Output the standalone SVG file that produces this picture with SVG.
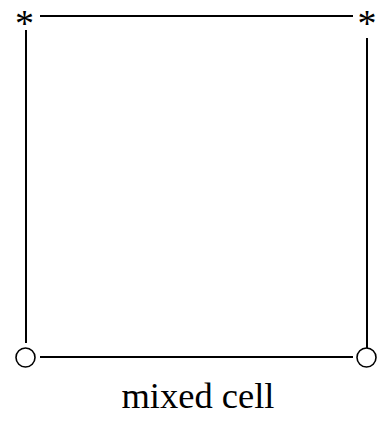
<svg xmlns="http://www.w3.org/2000/svg" width="380" height="427" viewBox="0 0 380 427">
<style>
.edge{stroke:#000;stroke-width:2;fill:none}
.ring{stroke:#000;stroke-width:1.6;fill:#fff}
.star{font-family:"Liberation Serif",serif;font-size:38px;text-anchor:middle;fill:#000}
.lbl{font-family:"Liberation Serif",serif;font-size:36.5px;text-anchor:middle;fill:#000}
</style>
<rect width="380" height="427" fill="#fff"/>
<g id="connectors">
<line class="edge" x1="40" y1="16" x2="353" y2="16"/>
<line class="edge" x1="26" y1="30" x2="26" y2="343"/>
<line class="edge" x1="367" y1="38" x2="367" y2="348"/>
<line class="edge" x1="40" y1="357" x2="353" y2="357"/>
</g>
<g id="top-left"><text class="star" x="24.5" y="36">*</text></g>
<g id="top-right"><text class="star" x="367" y="36">*</text></g>
<g id="bottom-left"><circle class="ring" cx="25.5" cy="357.5" r="9.5"/></g>
<g id="bottom-right"><circle class="ring" cx="366.5" cy="357.5" r="9.5"/></g>
<g id="label"><text class="lbl" x="198" y="408">mixed cell</text></g>
</svg>
